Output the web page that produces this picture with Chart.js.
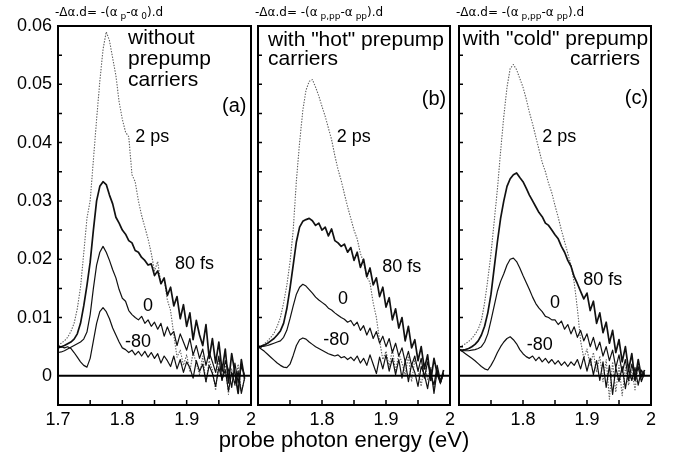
<!DOCTYPE html>
<html>
<head>
<meta charset="utf-8">
<script src="https://cdn.jsdelivr.net/npm/chart.js@4"></script>
<style>
  html, body { margin: 0; padding: 0; background: #fff; }
  #wrap { position: relative; width: 673px; height: 457px; overflow: hidden; font-family: "Liberation Sans", Arial, sans-serif; }
  canvas { position: absolute; top: 0; }
  #xtitle { position: absolute; left: 344px; top: 429px; transform: translateX(-50%); font-size: 22px; line-height: 22px; white-space: nowrap; color: #000; }
</style>
</head>
<body>
<div id="wrap">
  <canvas id="chartA" width="262" height="457" style="left:0px"></canvas>
  <canvas id="chartB" width="208" height="457" style="left:252px"></canvas>
  <canvas id="chartC" width="221" height="457" style="left:452px"></canvas>
  <div id="xtitle">probe photon energy (eV)</div>
</div>
<script>
// probe photon energy (eV), shared by all three panels
var energy = [1.700, 1.705, 1.710, 1.715, 1.720, 1.725, 1.730, 1.735, 1.740, 1.745,
              1.750, 1.755, 1.760, 1.765, 1.770, 1.775, 1.780, 1.785, 1.790, 1.795,
              1.800, 1.805, 1.810, 1.815, 1.820, 1.825, 1.830, 1.835, 1.840, 1.845,
              1.850, 1.855, 1.860, 1.865, 1.870, 1.875, 1.880, 1.885, 1.890, 1.895,
              1.900, 1.905, 1.910, 1.915, 1.920, 1.925, 1.930, 1.935, 1.940, 1.945,
              1.950, 1.955, 1.960, 1.965, 1.970, 1.975, 1.980, 1.985, 1.990];

var xTickValues = [1.7, 1.8, 1.9, 2.0];
var xMinorTicks = [1.75, 1.8, 1.85, 1.9, 1.95];
var yTickValues = [0, 0.01, 0.02, 0.03, 0.04, 0.05, 0.06];
var yMinorTicks = [0.005, 0.01, 0.015, 0.02, 0.025, 0.03, 0.035, 0.04, 0.045, 0.05, 0.055];

// (a) without prepump carriers
var a2ps = [0.0052, 0.0056, 0.0060, 0.0066, 0.0076, 0.0090, 0.0115, 0.0152, 0.0210, 0.0270,
            0.0300, 0.0370, 0.0440, 0.0505, 0.0560, 0.0590, 0.0575, 0.0545, 0.0515, 0.0470,
            0.0440, 0.0418, 0.0410, 0.0345, 0.0333, 0.0300, 0.0275, 0.0255, 0.0235, 0.0210,
            0.0180, 0.0196, 0.0158, 0.0166, 0.0130, 0.0112, 0.0070, 0.0032, 0.0044, 0.0018,
            0.0036, 0.0008, 0.0040, 0.0022, 0.0002, 0.0034, -0.0012, 0.0026, 0.0010, -0.0025,
            0.0030, -0.0008, 0.0018, -0.0032, 0.0012, -0.0018, 0.0020, -0.0028, -0.0005];
var a80fs = [0.0048, 0.0050, 0.0052, 0.0055, 0.0058, 0.0063, 0.0072, 0.0090, 0.0120, 0.0155,
             0.0195, 0.0250, 0.0300, 0.0325, 0.0333, 0.0328, 0.0310, 0.0295, 0.0272, 0.0262,
             0.0250, 0.0243, 0.0232, 0.0228, 0.0215, 0.0212, 0.0203, 0.0198, 0.0190, 0.0192,
             0.0172, 0.0180, 0.0158, 0.0168, 0.0138, 0.0152, 0.0120, 0.0136, 0.0098, 0.0122,
             0.0085, 0.0108, 0.0062, 0.0095, 0.0070, 0.0052, 0.0088, 0.0030, 0.0064, 0.0022,
             0.0058, 0.0008, 0.0046, -0.0012, 0.0038, 0.0005, -0.0030, 0.0028, -0.0005];
var a0 = [0.0040, 0.0041, 0.0043, 0.0046, 0.0049, 0.0052, 0.0055, 0.0058, 0.0063, 0.0075,
          0.0105, 0.0150, 0.0190, 0.0212, 0.0222, 0.0212, 0.0198, 0.0182, 0.0168, 0.0148,
          0.0133, 0.0128, 0.0112, 0.0105, 0.0100, 0.0096, 0.0102, 0.0090, 0.0096, 0.0085,
          0.0092, 0.0080, 0.0090, 0.0068, 0.0084, 0.0070, 0.0076, 0.0052, 0.0072, 0.0058,
          0.0044, 0.0064, 0.0036, 0.0052, 0.0030, 0.0046, 0.0018, 0.0040, 0.0024, 0.0006,
          0.0034, -0.0008, 0.0026, 0.0010, -0.0020, 0.0022, -0.0012, 0.0016, 0.0002];
var aMinus80 = [0.0052, 0.0050, 0.0048, 0.0050, 0.0047, 0.0040, 0.0032, 0.0024, 0.0018, 0.0015,
                0.0030, 0.0060, 0.0090, 0.0110, 0.0117, 0.0110, 0.0098, 0.0082, 0.0070, 0.0058,
                0.0048, 0.0045, 0.0040, 0.0044, 0.0036, 0.0042, 0.0034, 0.0042, 0.0032, 0.0040,
                0.0030, 0.0038, 0.0022, 0.0034, 0.0026, 0.0016, 0.0034, 0.0012, 0.0028, 0.0006,
                0.0024, 0.0014, -0.0004, 0.0026, 0.0008, 0.0020, -0.0010, 0.0018, 0.0004, -0.0018,
                0.0014, -0.0006, 0.0010, -0.0026, 0.0006, -0.0014, 0.0008, -0.0030, -0.0004];

// (b) with "hot" prepump carriers
var b2ps = [0.0048, 0.0050, 0.0055, 0.0060, 0.0066, 0.0073, 0.0085, 0.0100, 0.0125, 0.0155,
            0.0195, 0.0250, 0.0335, 0.0400, 0.0455, 0.0490, 0.0505, 0.0508, 0.0495, 0.0480,
            0.0462, 0.0445, 0.0425, 0.0405, 0.0378, 0.0354, 0.0335, 0.0312, 0.0290, 0.0270,
            0.0250, 0.0235, 0.0210, 0.0195, 0.0170, 0.0160, 0.0125, 0.0100, 0.0060, 0.0028,
            0.0042, 0.0016, 0.0046, 0.0008, 0.0038, 0.0022, 0.0002, 0.0034, -0.0010, 0.0028,
            0.0010, -0.0018, 0.0022, -0.0006, 0.0016, -0.0026, 0.0012, -0.0014, 0.0004];
var b80fs = [0.0050, 0.0051, 0.0053, 0.0056, 0.0060, 0.0064, 0.0070, 0.0077, 0.0090, 0.0115,
             0.0150, 0.0190, 0.0230, 0.0255, 0.0265, 0.0268, 0.0270, 0.0266, 0.0258, 0.0262,
             0.0250, 0.0255, 0.0240, 0.0252, 0.0232, 0.0228, 0.0222, 0.0226, 0.0212, 0.0220,
             0.0198, 0.0212, 0.0186, 0.0200, 0.0170, 0.0185, 0.0156, 0.0168, 0.0136, 0.0152,
             0.0118, 0.0134, 0.0096, 0.0115, 0.0082, 0.0100, 0.0060, 0.0085, 0.0048, 0.0062,
             0.0026, 0.0050, 0.0012, 0.0036, -0.0008, 0.0030, 0.0004, -0.0012, 0.0010];
var b0 = [0.0049, 0.0050, 0.0051, 0.0052, 0.0054, 0.0056, 0.0058, 0.0060, 0.0066, 0.0078,
          0.0098, 0.0120, 0.0140, 0.0152, 0.0157, 0.0154, 0.0148, 0.0142, 0.0135, 0.0130,
          0.0126, 0.0122, 0.0116, 0.0113, 0.0108, 0.0104, 0.0100, 0.0097, 0.0092, 0.0095,
          0.0086, 0.0092, 0.0078, 0.0086, 0.0070, 0.0082, 0.0064, 0.0076, 0.0056, 0.0068,
          0.0050, 0.0064, 0.0040, 0.0056, 0.0034, 0.0048, 0.0024, 0.0042, 0.0018, 0.0034,
          0.0008, 0.0030, -0.0004, 0.0024, 0.0002, -0.0016, 0.0018, -0.0008, 0.0004];
var bMinus80 = [0.0050, 0.0046, 0.0042, 0.0037, 0.0032, 0.0027, 0.0022, 0.0018, 0.0015, 0.0014,
                0.0020, 0.0035, 0.0052, 0.0062, 0.0065, 0.0063, 0.0058, 0.0054, 0.0050, 0.0047,
                0.0044, 0.0041, 0.0038, 0.0036, 0.0034, 0.0036, 0.0031, 0.0033, 0.0028, 0.0032,
                0.0026, 0.0034, 0.0022, 0.0030, 0.0018, 0.0036, 0.0020, 0.0004, 0.0032, 0.0012,
                0.0036, 0.0008, 0.0030, 0.0002, 0.0028, -0.0004, 0.0026, -0.0010, 0.0020, 0.0006,
                -0.0018, 0.0016, 0.0002, -0.0022, 0.0012, -0.0030, 0.0010, -0.0012, 0.0004];

// (c) with "cold" prepump carriers
var c2ps = [0.0050, 0.0052, 0.0055, 0.0059, 0.0064, 0.0071, 0.0080, 0.0095, 0.0125, 0.0165,
            0.0210, 0.0265, 0.0320, 0.0385, 0.0445, 0.0495, 0.0527, 0.0534, 0.0525, 0.0510,
            0.0495, 0.0475, 0.0452, 0.0432, 0.0410, 0.0388, 0.0366, 0.0350, 0.0330, 0.0314,
            0.0292, 0.0272, 0.0250, 0.0230, 0.0210, 0.0190, 0.0160, 0.0115, 0.0060, 0.0030,
            0.0046, 0.0018, 0.0040, 0.0006, 0.0034, -0.0010, 0.0028, -0.0040, 0.0024, -0.0028,
            0.0018, -0.0034, 0.0014, -0.0016, 0.0010, -0.0024, 0.0016, -0.0008, 0.0004];
var c80fs = [0.0045, 0.0044, 0.0045, 0.0047, 0.0050, 0.0054, 0.0060, 0.0070, 0.0085, 0.0108,
             0.0140, 0.0185, 0.0230, 0.0270, 0.0300, 0.0325, 0.0338, 0.0345, 0.0348, 0.0340,
             0.0333, 0.0322, 0.0310, 0.0300, 0.0290, 0.0280, 0.0273, 0.0262, 0.0258, 0.0250,
             0.0242, 0.0235, 0.0222, 0.0212, 0.0198, 0.0188, 0.0170, 0.0158, 0.0145, 0.0132,
             0.0142, 0.0112, 0.0128, 0.0090, 0.0108, 0.0074, 0.0092, 0.0056, 0.0078, 0.0040,
             0.0062, 0.0024, 0.0050, 0.0010, 0.0038, -0.0008, 0.0028, -0.0002, 0.0010];
var c0 = [0.0044, 0.0043, 0.0043, 0.0043, 0.0044, 0.0045, 0.0047, 0.0050, 0.0058, 0.0072,
          0.0095, 0.0120, 0.0145, 0.0162, 0.0175, 0.0190, 0.0200, 0.0202, 0.0196, 0.0185,
          0.0172, 0.0160, 0.0148, 0.0135, 0.0124, 0.0116, 0.0110, 0.0102, 0.0100, 0.0096,
          0.0096, 0.0088, 0.0094, 0.0080, 0.0088, 0.0072, 0.0084, 0.0066, 0.0078, 0.0060,
          0.0072, 0.0050, 0.0066, 0.0044, 0.0058, 0.0034, 0.0050, 0.0026, 0.0044, 0.0014,
          0.0036, 0.0006, 0.0028, -0.0008, 0.0020, -0.0004, 0.0016, -0.0010, 0.0006];
var cMinus80 = [0.0045, 0.0042, 0.0038, 0.0034, 0.0030, 0.0026, 0.0021, 0.0016, 0.0012, 0.0010,
                0.0018, 0.0028, 0.0040, 0.0050, 0.0058, 0.0064, 0.0067, 0.0062, 0.0055, 0.0045,
                0.0038, 0.0033, 0.0030, 0.0034, 0.0026, 0.0032, 0.0024, 0.0030, 0.0022, 0.0028,
                0.0020, 0.0026, 0.0018, 0.0024, 0.0016, 0.0024, 0.0018, 0.0028, 0.0012, 0.0032,
                0.0008, 0.0030, 0.0002, 0.0026, -0.0008, 0.0024, -0.0020, 0.0018, -0.0032, 0.0014,
                -0.0010, 0.0016, -0.0022, 0.0012, -0.0008, 0.0014, -0.0016, 0.0010, 0.0000];

var FONT = '"Liberation Sans", Arial, sans-serif';

var styles = {
  ps2:  { borderColor: '#5e5e5e', borderWidth: 1.1, borderDash: [1.4, 1.4] },
  fs80: { borderColor: '#111', borderWidth: 1.7 },
  zero: { borderColor: '#111', borderWidth: 1.2 },
  m80:  { borderColor: '#111', borderWidth: 1.2 }
};

function curve(values, style) {
  return Object.assign({
    data: energy.map(function (e, i) { return { x: e, y: values[i] }; }),
    pointRadius: 0, tension: 0, fill: false, borderJoinStyle: 'round'
  }, style);
}

// frame, zero line, inward ticks, heading formula and text labels
var panelDecor = {
  id: 'panelDecor',
  afterDraw: function (chart, args, opts) {
    var ctx = chart.ctx, a = chart.chartArea, x = chart.scales.x, y = chart.scales.y;
    ctx.save();
    ctx.strokeStyle = '#000';
    ctx.lineWidth = 2;
    var y0 = y.getPixelForValue(0);
    ctx.beginPath(); ctx.moveTo(a.left, y0); ctx.lineTo(a.right, y0); ctx.stroke();

    ctx.lineWidth = 1.5;
    ctx.beginPath();
    xMinorTicks.forEach(function (v) {
      var px = x.getPixelForValue(v);
      ctx.moveTo(px, a.bottom); ctx.lineTo(px, a.bottom - 5);
    });
    yMinorTicks.forEach(function (v) {
      var py = y.getPixelForValue(v);
      ctx.moveTo(a.left, py); ctx.lineTo(a.left + 4, py);
    });
    ctx.stroke();

    ctx.lineWidth = 2;
    ctx.strokeRect(a.left, a.top, a.right - a.left, a.bottom - a.top);

    // formula above the panel, with subscripts
    ctx.fillStyle = '#000';
    ctx.textAlign = 'left';
    ctx.textBaseline = 'alphabetic';
    var tx = a.left - 3;
    opts.heading.forEach(function (s) {
      ctx.font = (s[1] ? 9 : 12) + 'px "DejaVu Sans", sans-serif';
      ctx.fillText(s[0], tx, a.top - 10 + (s[1] ? 3 : 0));
      tx += ctx.measureText(s[0]).width;
    });

    ctx.textBaseline = 'middle';
    opts.labels.forEach(function (l) {
      ctx.font = l.size + 'px ' + FONT;
      ctx.textAlign = l.align || 'left';
      ctx.fillText(l.text, x.getPixelForValue(l.x), y.getPixelForValue(l.y));
    });
    ctx.restore();
  }
};

function makePanel(id, series, cfg) {
  return new Chart(document.getElementById(id), {
    type: 'line',
    data: {
      datasets: [
        curve(series[3], styles.m80),
        curve(series[2], styles.zero),
        curve(series[1], styles.fs80),
        curve(series[0], styles.ps2)
      ]
    },
    options: {
      responsive: false,
      animation: false,
      events: [],
      layout: { autoPadding: false, padding: { top: 26, right: cfg.padRight, left: 0, bottom: 0 } },
      plugins: {
        legend: { display: false },
        tooltip: { enabled: false },
        panelDecor: { heading: cfg.heading, labels: cfg.labels }
      },
      scales: {
        x: {
          type: 'linear', min: 1.7, max: 2.0,
          grid: { display: false, drawTicks: false },
          border: { display: false },
          afterBuildTicks: function (s) { s.ticks = xTickValues.map(function (v) { return { value: v }; }); },
          afterFit: function (s) { s.height = 52; },
          ticks: {
            padding: 4, color: '#000', maxRotation: 0, autoSkip: false,
            font: { family: FONT, size: 18 },
            callback: function (v) {
              var t = Math.round(v * 10) / 10;
              if (!cfg.firstX && t === 1.7) return '';
              return String(t);
            }
          }
        },
        y: {
          min: -0.005, max: 0.06,
          grid: { display: false, drawTicks: false },
          border: { display: false },
          afterBuildTicks: function (s) { s.ticks = yTickValues.map(function (v) { return { value: v }; }); },
          afterFit: function (s) { s.width = cfg.yWidth; },
          ticks: {
            display: cfg.showY, padding: 6, color: '#000',
            font: { family: FONT, size: 18 },
            callback: function (v) { return v === 0 ? '0' : v.toFixed(2); }
          }
        }
      }
    },
    plugins: [panelDecor]
  });
}

var headA = [['-\u0394\u03b1.d= -(\u03b1', 0], [' p', 1], ['-\u03b1', 0], [' 0', 1], [').d', 0]];
var headPP = [['-\u0394\u03b1.d= -(\u03b1', 0], [' p,pp', 1], ['-\u03b1', 0], [' pp', 1], [').d', 0]];

makePanel('chartA', [a2ps, a80fs, a0, aMinus80], {
  yWidth: 58, padRight: 11, showY: true, firstX: true, heading: headA,
  labels: [
    { text: 'without', x: 1.809, y: 0.0579, size: 21 },
    { text: 'prepump', x: 1.809, y: 0.0543, size: 21 },
    { text: 'carriers', x: 1.809, y: 0.0507, size: 21 },
    { text: '(a)', x: 1.955, y: 0.0462, size: 20 },
    { text: '2 ps', x: 1.820, y: 0.0409, size: 18 },
    { text: '80 fs', x: 1.882, y: 0.0191, size: 18 },
    { text: '0', x: 1.832, y: 0.0119, size: 18 },
    { text: '-80', x: 1.804, y: 0.0058, size: 18 }
  ]
});

makePanel('chartB', [b2ps, b80fs, b0, bMinus80], {
  yWidth: 6, padRight: 10, showY: false, firstX: false, heading: headPP,
  labels: [
    { text: 'with "hot" prepump', x: 1.7156, y: 0.0576, size: 21 },
    { text: 'carriers', x: 1.7156, y: 0.0543, size: 21 },
    { text: '(b)', x: 1.956, y: 0.0474, size: 20 },
    { text: '2 ps', x: 1.823, y: 0.0409, size: 18 },
    { text: '80 fs', x: 1.894, y: 0.0186, size: 18 },
    { text: '0', x: 1.825, y: 0.0131, size: 18 },
    { text: '-80', x: 1.802, y: 0.0062, size: 18 }
  ]
});

makePanel('chartC', [c2ps, c80fs, c0, cMinus80], {
  yWidth: 7, padRight: 22, showY: false, firstX: false, heading: headPP,
  labels: [
    { text: 'with "cold" prepump', x: 1.706, y: 0.0577, size: 21 },
    { text: 'carriers', x: 1.983, y: 0.0543, size: 21, align: 'right' },
    { text: '(c)', x: 1.959, y: 0.0476, size: 20 },
    { text: '2 ps', x: 1.830, y: 0.0409, size: 18 },
    { text: '80 fs', x: 1.894, y: 0.0165, size: 18 },
    { text: '0', x: 1.842, y: 0.0125, size: 18 },
    { text: '-80', x: 1.806, y: 0.0053, size: 18 }
  ]
});
</script>
</body>
</html>
